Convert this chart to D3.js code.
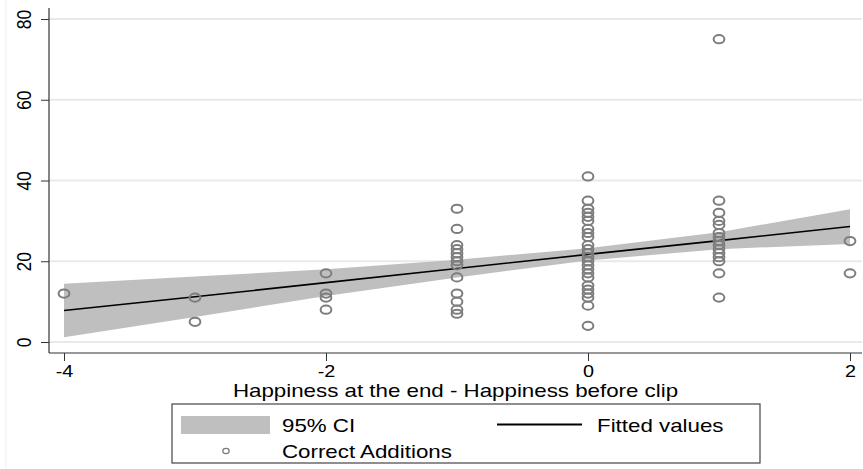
<!DOCTYPE html>
<html>
<head>
<meta charset="utf-8">
<script src="https://cdn.jsdelivr.net/npm/d3@7"></script>
<style>
  html, body { margin: 0; padding: 0; background: #fff; }
  svg { display: block; }
  text { font-family: "Liberation Sans", Arial, Helvetica, sans-serif; fill: #000; }
</style>
</head>
<body>
<svg id="chart" width="863" height="469"></svg>
<script>
// ---- data ----
const xValues  = [-4, -3, -2, -1, 0, 1, 2];
const fitted   = [7.8, 11.2, 14.7, 18.2, 21.7, 25.1, 28.6];
const ciLower  = [1.2, 6.2, 11.4, 16.0, 20.2, 23.0, 24.3];
const ciUpper  = [14.4, 16.2, 18.0, 20.4, 23.2, 27.2, 32.9];

const ptsXm4 = [12];
const ptsXm3 = [11, 5];
const ptsXm2 = [17, 12, 11, 8];
const ptsXm1 = [33, 28, 24, 23, 22, 21, 20, 19, 16, 12, 10, 8, 7];
const ptsX0  = [41, 35, 33, 32, 31, 30, 28, 27, 26, 24, 23, 22, 21, 20, 19, 18, 17, 16, 14, 13, 12, 11, 9, 4];
const ptsX1  = [75, 35, 32, 30, 29, 27, 26, 25, 24, 23, 22, 21, 20, 17, 11];
const ptsX2  = [25, 17];

const xTicks = [-4, -2, 0, 2];
const yTicks = [0, 20, 40, 60, 80];
const xTitle = "Happiness at the end - Happiness before clip";
const legendLabels = ["95% CI", "Fitted values", "Correct Additions"];

// ---- build point list ----
const groups = [[-4, ptsXm4], [-3, ptsXm3], [-2, ptsXm2], [-1, ptsXm1], [0, ptsX0], [1, ptsX1], [2, ptsX2]];
const points = [];
groups.forEach(([gx, vals]) => vals.forEach(v => points.push({x: gx, y: v})));
const band = xValues.map((xv, i) => ({x: xv, fit: fitted[i], lo: ciLower[i], hi: ciUpper[i]}));

// ---- layout ----
const SX = 1.2; // horizontal stretch of the original rendering
const plotLeft = 49, plotRight = 862, plotTop = 8, plotBottom = 353;
const x = d3.scaleLinear().domain([-4, 2]).range([64, 850]);
const y = d3.scaleLinear().domain([0, 80]).range([342, 19]);

const svg = d3.select("#chart");

// faint outer graph-region edge
svg.append("line").attr("x1", 6).attr("x2", 6).attr("y1", 0).attr("y2", 469)
  .attr("stroke", "#f0f0f0").attr("stroke-width", 1);

// gridlines
svg.append("g").selectAll("line").data(yTicks).join("line")
  .attr("x1", plotLeft).attr("x2", plotRight)
  .attr("y1", d => y(d)).attr("y2", d => y(d))
  .attr("stroke", "#e9e9e9").attr("stroke-width", 2);

// CI band
const area = d3.area().x(d => x(d.x)).y0(d => y(d.lo)).y1(d => y(d.hi));
svg.append("path").datum(band).attr("d", area).attr("fill", "#bfbfbf").attr("stroke", "none");

// fitted line
const line = d3.line().x(d => x(d.x)).y(d => y(d.fit));
svg.append("path").datum(band).attr("d", line).attr("fill", "none")
  .attr("stroke", "#000").attr("stroke-width", 1.6);

// points
svg.append("g").selectAll("ellipse").data(points).join("ellipse")
  .attr("cx", d => x(d.x)).attr("cy", d => y(d.y))
  .attr("rx", 5.4).attr("ry", 4.1)
  .attr("fill", "none").attr("stroke", "#7d7d7d").attr("stroke-width", 2);

// axes
const yAxis = d3.axisLeft(y).tickValues(yTicks).tickSize(8).tickSizeOuter(0).tickFormat(d3.format("d"));
const gy = svg.append("g").attr("transform", `translate(${plotLeft},0)`).call(yAxis);
gy.select(".domain").remove();
gy.selectAll(".tick line").attr("stroke", "#333").attr("stroke-width", 1);
gy.selectAll(".tick text")
  .attr("x", null).attr("y", null).attr("dy", null)
  .attr("text-anchor", "middle")
  .attr("transform", `translate(-18.5,0) scale(${SX},1) rotate(-90)`)
  .style("font-size", "17.5px").attr("fill", "#000");

const xAxis = d3.axisBottom(x).tickValues(xTicks).tickSize(8).tickSizeOuter(0).tickFormat(d3.format("d"));
const gx = svg.append("g").attr("transform", `translate(0,${plotBottom})`).call(xAxis);
gx.select(".domain").remove();
gx.selectAll(".tick line").attr("stroke", "#333").attr("stroke-width", 1);
gx.selectAll(".tick text")
  .attr("x", null).attr("y", null).attr("dy", null)
  .attr("text-anchor", "middle")
  .attr("transform", `translate(0,24) scale(${SX},1)`)
  .text(d => d < 0 ? "-" + Math.abs(d) : String(d))
  .style("font-size", "16.5px").attr("fill", "#000");

// axis lines
svg.append("line").attr("x1", plotLeft).attr("x2", plotLeft).attr("y1", plotTop).attr("y2", plotBottom)
  .attr("stroke", "#333").attr("stroke-width", 1.2);
svg.append("line").attr("x1", plotLeft).attr("x2", plotRight).attr("y1", plotBottom).attr("y2", plotBottom)
  .attr("stroke", "#333").attr("stroke-width", 1.2);

// x title
svg.append("text").attr("text-anchor", "middle")
  .attr("transform", `translate(${(plotLeft + plotRight) / 2},397) scale(${SX},1)`)
  .style("font-size", "18.6px").text(xTitle);

// legend
const lg = svg.append("g");
lg.append("rect").attr("x", 172).attr("y", 404).attr("width", 588).attr("height", 59)
  .attr("fill", "#fff").attr("stroke", "#444").attr("stroke-width", 1.2);
lg.append("rect").attr("x", 181).attr("y", 416).attr("width", 89).attr("height", 18).attr("fill", "#bfbfbf");
lg.append("text").attr("transform", `translate(282,431.5) scale(${SX},1)`).style("font-size", "18.6px").text(legendLabels[0]);
lg.append("line").attr("x1", 497).attr("x2", 582).attr("y1", 424.5).attr("y2", 424.5)
  .attr("stroke", "#000").attr("stroke-width", 1.8);
lg.append("text").attr("transform", `translate(597,431.5) scale(${SX},1)`).style("font-size", "18.6px").text(legendLabels[1]);
lg.append("ellipse").attr("cx", 226).attr("cy", 451).attr("rx", 3.2).attr("ry", 2.6)
  .attr("fill", "none").attr("stroke", "#7a7a7a").attr("stroke-width", 1.2);
lg.append("text").attr("transform", `translate(282,458) scale(${SX},1)`).style("font-size", "18.6px").text(legendLabels[2]);
</script>
</body>
</html>
